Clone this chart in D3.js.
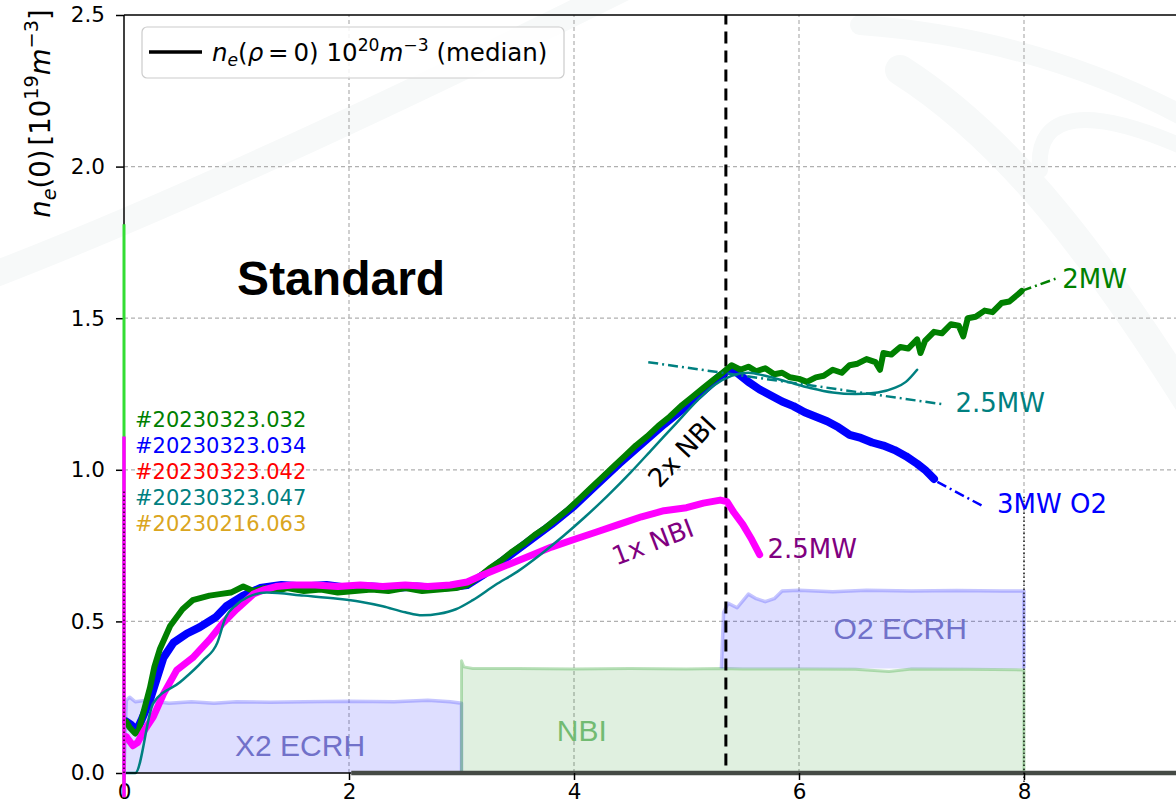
<!DOCTYPE html>
<html><head><meta charset="utf-8">
<script src="https://cdn.jsdelivr.net/npm/d3@7"></script>
<style>
body{margin:0;background:#fff;overflow:hidden;}
svg{display:block;}
text{font-family:"DejaVu Sans",sans-serif;}
</style>
</head><body>
<svg id="c" width="1176" height="811"></svg>
<script>
// ---------------- DATA ----------------
// #20230323.032 (green)
const greenT = [0.02,0.05,0.10,0.13,0.18,0.23,0.27,0.32,0.41,0.52,0.61,0.76,0.85,0.95,1.06,1.15,1.25,1.35,1.45,1.60,1.75,1.90,2.05,2.20,2.35,2.50,2.65,2.80,2.95,3.05,3.15,3.25,3.35,3.45,3.55,3.65,3.75,3.85,3.95,4.05,4.15,4.25,4.35,4.45,4.55,4.65,4.75,4.85,4.95,5.05,5.15,5.25,5.32,5.40,5.48,5.55,5.62,5.70,5.78,5.85,5.92,6.00,6.07,6.15,6.22,6.30,6.38,6.45,6.52,6.60,6.68,6.72,6.75,6.82,6.90,6.97,7.05,7.08,7.12,7.20,7.27,7.35,7.42,7.46,7.50,7.57,7.65,7.72,7.80,7.87,7.95,7.98];
const greenV = [0.17,0.15,0.13,0.14,0.21,0.28,0.35,0.41,0.485,0.54,0.57,0.585,0.59,0.595,0.615,0.60,0.61,0.60,0.61,0.60,0.605,0.595,0.60,0.605,0.60,0.61,0.60,0.605,0.61,0.62,0.645,0.675,0.70,0.73,0.755,0.785,0.81,0.84,0.87,0.905,0.94,0.975,1.01,1.045,1.08,1.11,1.145,1.175,1.21,1.24,1.27,1.30,1.32,1.345,1.33,1.34,1.325,1.335,1.315,1.32,1.305,1.30,1.29,1.305,1.31,1.33,1.32,1.345,1.35,1.365,1.355,1.33,1.385,1.38,1.405,1.40,1.43,1.385,1.425,1.455,1.45,1.48,1.475,1.44,1.50,1.505,1.525,1.52,1.55,1.555,1.58,1.59];
// #20230323.034 (blue)
const blueT = [0.02,0.06,0.11,0.15,0.23,0.35,0.44,0.56,0.67,0.82,0.91,1.06,1.21,1.40,1.60,1.80,2.00,2.20,2.40,2.60,2.80,2.95,3.05,3.20,3.40,3.60,3.80,4.00,4.20,4.40,4.60,4.80,5.00,5.15,5.30,5.38,5.45,5.55,5.65,5.75,5.85,5.95,6.05,6.15,6.25,6.35,6.45,6.55,6.65,6.75,6.85,6.95,7.05,7.12,7.20];
const blueV = [0.17,0.16,0.14,0.17,0.24,0.38,0.43,0.46,0.48,0.515,0.55,0.585,0.61,0.62,0.615,0.62,0.61,0.615,0.61,0.615,0.61,0.615,0.62,0.655,0.71,0.765,0.82,0.88,0.95,1.02,1.085,1.15,1.21,1.26,1.31,1.33,1.32,1.29,1.265,1.245,1.225,1.21,1.19,1.175,1.16,1.14,1.115,1.105,1.09,1.08,1.065,1.045,1.02,1.00,0.97];
// magenta shot
const magT = [0.02,0.08,0.12,0.18,0.26,0.35,0.47,0.61,0.76,0.88,1.00,1.15,1.25,1.35,1.50,1.70,1.90,2.10,2.30,2.50,2.70,2.90,3.05,3.20,3.40,3.60,3.80,4.00,4.20,4.40,4.60,4.80,5.00,5.15,5.30,5.36,5.42,5.50,5.58,5.65];
const magV = [0.12,0.09,0.10,0.14,0.185,0.26,0.34,0.38,0.44,0.495,0.54,0.59,0.605,0.615,0.62,0.62,0.615,0.62,0.615,0.62,0.615,0.62,0.63,0.655,0.685,0.715,0.745,0.77,0.795,0.82,0.845,0.865,0.875,0.89,0.90,0.895,0.86,0.82,0.77,0.72];
// #20230323.047 (teal, smooth)
const tealT = [0.00,0.10,0.26,0.50,0.70,0.83,0.90,1.00,1.10,1.27,1.60,1.90,2.10,2.30,2.50,2.65,2.80,2.95,3.10,3.30,3.50,3.70,3.90,4.10,4.30,4.50,4.70,4.90,5.10,5.25,5.40,5.55,5.70,5.90,6.10,6.30,6.50,6.70,6.85,6.95,7.05];
const tealV = [0.00,0.00,0.23,0.30,0.37,0.43,0.51,0.555,0.58,0.595,0.585,0.575,0.565,0.55,0.53,0.52,0.525,0.54,0.57,0.62,0.665,0.72,0.78,0.845,0.915,0.99,1.07,1.15,1.23,1.28,1.31,1.32,1.31,1.29,1.27,1.255,1.25,1.255,1.27,1.29,1.33];
// dash-dot trend extensions
const greenExtT = [7.98,8.28], greenExtV = [1.59,1.63];
const tealExtT  = [4.66,7.30], tealExtV  = [1.355,1.215];
const blueExtT  = [7.23,7.65], blueExtV  = [0.96,0.877];
// initial spikes at t=0
const limeSpikeT = [0,0], limeSpikeV = [-0.08,1.81];
const magSpikeT  = [0,0], magSpikeV  = [-0.08,1.11];
// heating power traces
const x2T = [0.00,0.02,0.05,0.10,0.20,0.40,0.60,0.80,1.00,1.30,1.60,2.00,2.40,2.70,2.90,3.00];
const x2V = [0.00,0.24,0.25,0.235,0.24,0.23,0.235,0.23,0.235,0.233,0.235,0.237,0.235,0.24,0.235,0.23];
const nbiT = [3.00,3.00,3.02,3.10,3.50,4.00,4.50,5.00,5.30,5.50,6.00,6.50,6.80,7.00,7.50,8.00];
const nbiV = [0.00,0.37,0.35,0.345,0.345,0.343,0.345,0.343,0.345,0.343,0.343,0.342,0.335,0.343,0.342,0.34];
const nbiLevel = 0.345;
const o2T   = [5.31,5.33,5.37,5.45,5.55,5.62,5.70,5.78,5.85,6.00,6.30,6.60,7.00,7.40,7.80,8.00];
const o2Top = [0.345,0.53,0.56,0.545,0.59,0.575,0.565,0.575,0.60,0.603,0.598,0.603,0.60,0.602,0.60,0.60];
// markers
const nbiSwitchT = 5.35;
const endT = 8.0;
const zeroLineT = [2.02,10.5];
// tick labels
const xTicks = [0,2,4,6,8];
const yTicks = [0,0.5,1.0,1.5,2.0,2.5];
const shotLabels = ["#20230323.032","#20230323.034","#20230323.042","#20230323.047","#20230216.063"];
const shotColors = ["#008000","#0000ff","#ff0000","#008080","#daa520"];

// ---------------- CHART ----------------
const svg = d3.select("#c");
const x = d3.scaleLinear().domain([0,10]).range([124,1249]);
const y = d3.scaleLinear().domain([0,2.5]).range([773,15]);
const zip = (T,V) => T.map((t,i)=>[t,V[i]]);
const line = d3.line().x(d=>x(d[0])).y(d=>y(d[1]));

// faint watermark
const wm = svg.append("g").attr("fill","none").attr("stroke","#f7f9f9").attr("stroke-linecap","round");
wm.append("path").attr("d","M -20,280 C 150,215 380,110 640,-20").attr("stroke-width",26);
wm.append("path").attr("d","M 860,25 C 1000,35 1110,75 1200,125").attr("stroke-width",20);
wm.append("path").attr("d","M 900,70 C 1010,140 1100,260 1200,420").attr("stroke-width",30);
wm.append("path").attr("d","M 1190,150 C 1090,105 1035,110 1040,170").attr("stroke-width",16);

// grid
const grid = svg.append("g").attr("stroke","#b0b0b0").attr("stroke-width",1.2).attr("stroke-dasharray","4,3");
[...xTicks,10].filter(t=>t>0).forEach(t=>grid.append("line").attr("x1",x(t)).attr("x2",x(t)).attr("y1",y(0)).attr("y2",y(2.5)));
yTicks.filter(v=>v>0 && v<2.5).forEach(v=>grid.append("line").attr("x1",x(0)).attr("x2",1176).attr("y1",y(v)).attr("y2",y(v)));

// heating fills
const area = d3.area().x(d=>x(d[0])).y0(d=>y(d[2])).y1(d=>y(d[1]));
const x2Pts = zip(x2T,x2V).map(d=>[d[0],d[1],0]);
svg.append("path").datum(x2Pts).attr("d",area).attr("fill","rgba(0,0,255,0.13)");
svg.append("path").datum([...zip(x2T,x2V),[x2T[x2T.length-1],0]]).attr("d",line)
  .attr("fill","none").attr("stroke","rgba(90,90,255,0.35)").attr("stroke-width",3.5).attr("stroke-linejoin","round");
const nbiPts = zip(nbiT,nbiV).map(d=>[d[0],d[1],0]);
svg.append("path").datum(nbiPts).attr("d",area).attr("fill","rgba(0,128,0,0.12)");
svg.append("path").datum([...zip(nbiT,nbiV),[nbiT[nbiT.length-1],0]]).attr("d",line)
  .attr("fill","none").attr("stroke","rgba(60,170,60,0.35)").attr("stroke-width",3).attr("stroke-linejoin","round");
const o2Pts = zip(o2T,o2Top).map(d=>[d[0],d[1],nbiLevel]);
svg.append("path").datum(o2Pts).attr("d",area).attr("fill","rgba(0,0,255,0.13)");
svg.append("path").datum([[o2T[0],nbiLevel],...zip(o2T,o2Top),[o2T[o2T.length-1],nbiLevel]]).attr("d",line)
  .attr("fill","none").attr("stroke","rgba(90,90,255,0.35)").attr("stroke-width",3.5).attr("stroke-linejoin","round");

// fill labels
const lab = (t,v,txt,col,fs,anchor)=>svg.append("text").attr("x",x(t)).attr("y",y(v)).text(txt)
  .attr("fill",col).attr("font-size",fs).attr("text-anchor",anchor||"middle");
lab(1.565,0.057,"X2 ECRH","#7171c9",30).style("font-family","'Liberation Sans',Arial,sans-serif");
lab(4.07,0.105,"NBI","#72bb72",30).style("font-family","'Liberation Sans',Arial,sans-serif");
lab(6.90,0.442,"O2 ECRH","#7171c9",30).style("font-family","'Liberation Sans',Arial,sans-serif");

// bottom zero line
svg.append("path").datum(zeroLineT.map(t=>[t,0])).attr("d",line).attr("stroke","#454a45").attr("stroke-width",4.5);

// vertical dashed marker
svg.append("line").attr("x1",x(nbiSwitchT)).attr("x2",x(nbiSwitchT)).attr("y1",y(0.025)).attr("y2",y(2.5))
  .attr("stroke","#000").attr("stroke-width",3).attr("stroke-dasharray","12,7");

// curves
const curve = (T,V,col,w,c)=>svg.append("path").datum(zip(T,V))
  .attr("d",d3.line().x(d=>x(d[0])).y(d=>y(d[1])).curve(c||d3.curveLinear))
  .attr("fill","none").attr("stroke",col).attr("stroke-width",w).attr("stroke-linejoin","round").attr("stroke-linecap","round");
curve(blueT,blueV,"#0000ff",8);
curve(greenT,greenV,"#008000",6);
curve(magT,magV,"#ff00ff",7);
curve(tealT,tealV,"#008080",2.5,d3.curveMonotoneX);
curve(greenExtT,greenExtV,"#008000",2.5).attr("stroke-dasharray","10,4,2,4").attr("stroke-linecap","butt");
curve(tealExtT,tealExtV,"#008080",2.5).attr("stroke-dasharray","10,4,2,4").attr("stroke-linecap","butt");
curve(blueExtT,blueExtV,"#0000ff",2.5).attr("stroke-dasharray","10,4,2,4").attr("stroke-linecap","butt");

// axes
const fsTick = 21.5;
const yAxis = svg.append("g").attr("transform",`translate(${x(0)},0)`)
  .call(d3.axisLeft(y).tickValues(yTicks).tickFormat(d3.format(".1f")).tickSize(8).tickPadding(11));
const xAxis = svg.append("g").attr("transform",`translate(0,${y(0)})`)
  .call(d3.axisBottom(x).tickValues(xTicks).tickFormat(d3.format("d")).tickSize(7).tickPadding(4));
[yAxis,xAxis].forEach(g=>{
  g.select(".domain").remove();
  g.selectAll("line").attr("stroke","#000").attr("stroke-width",1.5);
  g.selectAll("text").attr("font-size",fsTick).attr("fill","#000").style("font-family","'DejaVu Sans',sans-serif");
});
// spines
svg.append("line").attr("x1",x(0)).attr("x2",1176).attr("y1",y(2.5)).attr("y2",y(2.5)).attr("stroke","#000").attr("stroke-width",1.5);
svg.append("line").attr("x1",x(0)).attr("x2",x(2.02)).attr("y1",y(0)).attr("y2",y(0)).attr("stroke","#000").attr("stroke-width",1.5);
svg.append("line").attr("x1",x(0)).attr("x2",x(0)).attr("y1",y(0)).attr("y2",y(2.5)).attr("stroke","#000").attr("stroke-width",1.5);

// spikes at t=0 and end marker
curve(limeSpikeT,limeSpikeV,"#33dd33",3).attr("stroke-linecap","butt");
curve(magSpikeT,magSpikeV,"#ff00ff",3.5).attr("stroke-linecap","butt");
svg.append("line").attr("x1",x(0)).attr("x2",x(0)).attr("y1",y(0)).attr("y2",y(0.93))
  .attr("stroke","#000").attr("stroke-width",1.3).attr("stroke-dasharray","1.5,2.5");
svg.append("line").attr("x1",x(endT)).attr("x2",x(endT)).attr("y1",y(-0.03)).attr("y2",y(0.91))
  .attr("stroke","#000").attr("stroke-width",1.3).attr("stroke-dasharray","1.5,2.5");

// shot labels
shotLabels.forEach((s,i)=>{
  svg.append("text").attr("x",x(0.098)).attr("y",y(1.141)+i*26).text(s)
    .attr("fill",shotColors[i]).attr("font-size",21);
});

// annotations
svg.append("text").attr("x",x(1.93)).attr("y",y(1.577)).text("Standard")
  .attr("text-anchor","middle").attr("font-size",48).attr("font-weight","bold")
  .style("font-family","'Liberation Sans',Arial,sans-serif");
lab(8.34,1.60,"2MW","#008000",26,"start");
lab(7.39,1.19,"2.5MW","#008080",26,"start");
lab(7.76,0.857,"3MW O2","#0000ff",26,"start");
lab(5.72,0.71,"2.5MW","#800080",26,"start");
svg.append("text").attr("transform",`translate(${x(4.70)},${y(0.762)}) rotate(-21)`).attr("dy","0.35em")
  .attr("text-anchor","middle").attr("font-size",26).attr("fill","#800080").text("1x NBI");
svg.append("text").attr("transform",`translate(${x(4.96)},${y(1.06)}) rotate(-47)`).attr("dy","0.35em")
  .attr("text-anchor","middle").attr("font-size",26).attr("fill","#000").text("2x NBI");

// mathtext helper
function mathText(el, segs, fs){
  let shift = 0;
  segs.forEach(sg=>{
    const target = sg.p==="sup" ? -0.42*fs : sg.p==="sub" ? 0.2*fs : 0;
    const ts = el.append("tspan").text(sg.t)
      .attr("font-size", sg.p ? fs*0.7 : fs)
      .attr("dy", (target-shift)+"px");
    if(sg.i) ts.attr("font-style","italic");
    if(sg.dx) ts.attr("dx", sg.dx);
    shift = target;
  });
}

// y label
const yl = svg.append("text").attr("transform","translate(50,113.5) rotate(-90)").attr("text-anchor","middle").attr("fill","#000");
mathText(yl,[{t:"n",i:1},{t:"e",i:1,p:"sub"},{t:"(0)"},{t:"[10",dx:4},{t:"19",p:"sup"},{t:"m",i:1},{t:"−3",p:"sup"},{t:"]"}],27.5);

// legend
const lg = svg.append("g");
lg.append("rect").attr("x",142).attr("y",27).attr("width",422).attr("height",51).attr("rx",5)
  .attr("fill","rgba(255,255,255,0.85)").attr("stroke","#cccccc").attr("stroke-width",1.2);
lg.append("line").attr("x1",149).attr("x2",202).attr("y1",52).attr("y2",52).attr("stroke","#000").attr("stroke-width",3.5);
const lt = lg.append("text").attr("x",212).attr("y",61).attr("fill","#000");
mathText(lt,[{t:"n",i:1},{t:"e",i:1,p:"sub"},{t:"("},{t:"ρ",i:1},{t:"\u2009=\u2009"},{t:"0) 10"},{t:"20",p:"sup"},{t:"m",i:1},{t:"−3",p:"sup"},{t:" (median)"}],24.5);
</script>
</body></html>
